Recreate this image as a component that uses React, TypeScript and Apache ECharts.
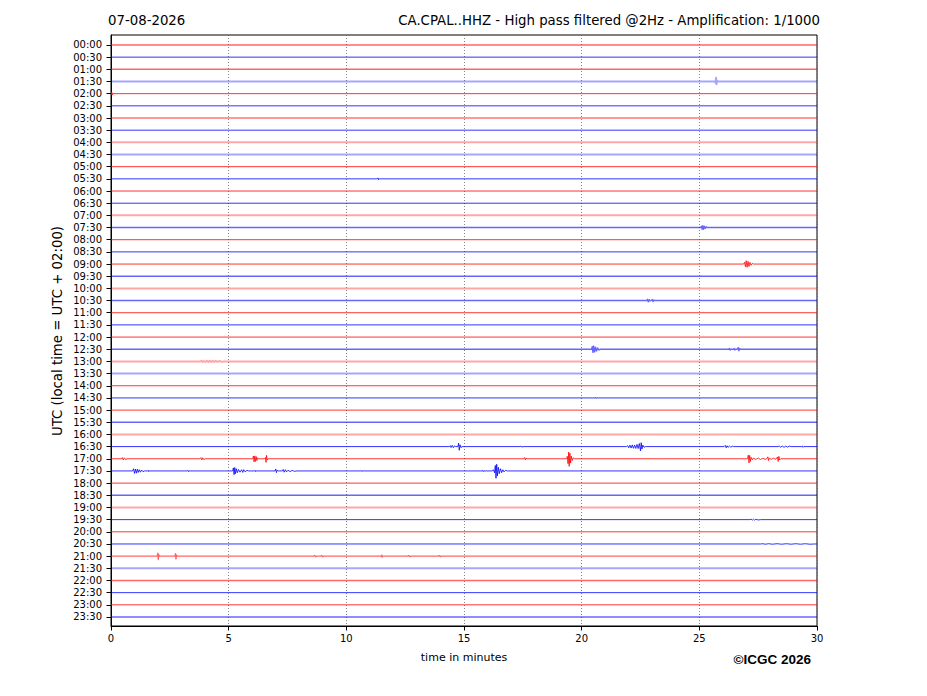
import React, { useEffect, useRef } from "react";
import * as echarts from "echarts";

const DATE_TEXT = "07-08-2026";
const TITLE_TEXT = "CA.CPAL..HHZ - High pass filtered @2Hz - Amplification: 1/1000";
const Y_NAME = "UTC (local time = UTC + 02:00)";
const X_NAME = "time in minutes";
const CREDIT = "\u00A9ICGC 2026";

const TIME_LABELS = [
  "00:00", "00:30", "01:00", "01:30", "02:00", "02:30", "03:00", "03:30",
  "04:00", "04:30", "05:00", "05:30", "06:00", "06:30", "07:00", "07:30",
  "08:00", "08:30", "09:00", "09:30", "10:00", "10:30", "11:00", "11:30",
  "12:00", "12:30", "13:00", "13:30", "14:00", "14:30", "15:00", "15:30",
  "16:00", "16:30", "17:00", "17:30", "18:00", "18:30", "19:00", "19:30",
  "20:00", "20:30", "21:00", "21:30", "22:00", "22:30", "23:00", "23:30",
];

// background noise level of each trace (0 quiet, 1 slight, 2 noisy)
const TRACE_NOISE = [
  1, 0, 1, 2, 0, 0, 0, 0, 2, 2, 0, 0, 0, 0,
  2, 1, 0, 0, 0, 1, 2, 1, 0, 0, 0, 1, 2, 2, 0, 0, 0, 1,
  2, 0, 0, 0, 0, 1, 2, 0, 0, 0, 1, 2, 1, 0, 0, 1,
];

// events: [minute, deflection in trace-spacing units]
const EV_0130: number[][] = [[25.66, 0], [25.69, 0.1], [25.71, -0.3], [25.73, 0.22], [25.75, -0.08], [25.78, 0]];
const EV_0200: number[][] = [[0.01, 0.08], [0.03, -0.12], [0.06, 0.1], [0.09, -0.05], [0.12, 0]];
const EV_0530: number[][] = [[11.32, 0], [11.35, -0.08], [11.37, 0.07], [11.4, 0]];
const EV_0730: number[][] = [[25.05, 0], [25.09, -0.1], [25.12, 0.14], [25.15, -0.16], [25.18, 0.14], [25.22, -0.1], [25.26, 0.07], [25.3, -0.05], [25.35, 0]];
const EV_0900: number[][] = [[26.88, 0], [26.92, -0.14], [26.96, 0.22], [26.99, -0.28], [27.03, 0.26], [27.07, -0.22], [27.11, 0.2], [27.15, -0.14], [27.2, 0.1], [27.25, -0.06], [27.3, 0]];
const EV_1030: number[][] = [[22.76, 0], [22.8, -0.1], [22.83, 0.1], [22.87, -0.07], [22.9, 0.03], [22.95, 0], [23.0, -0.08], [23.03, 0.08], [23.07, -0.04], [23.1, 0]];
const EV_1230: number[][] = [
  [20.42, 0], [20.45, -0.22], [20.48, 0.26], [20.51, -0.26], [20.55, 0.22], [20.59, -0.16], [20.63, 0.14], [20.68, -0.1], [20.73, 0.06], [20.8, 0],
  [26.25, 0], [26.28, -0.07], [26.31, 0.07], [26.34, 0], [26.45, 0], [26.48, -0.06], [26.51, 0.06], [26.54, 0],
  [26.62, 0], [26.65, -0.14], [26.68, 0.12], [26.71, -0.06], [26.75, 0],
];
const EV_1300: number[][] = [[3.8, 0], [3.85, -0.05], [3.9, 0.05], [3.96, -0.04], [4.02, 0.05], [4.08, -0.05], [4.14, 0.04], [4.2, -0.06], [4.26, 0.05], [4.32, -0.05], [4.38, 0.04], [4.45, -0.04], [4.52, 0.04], [4.6, -0.03], [4.7, 0.03], [4.8, 0]];
const EV_1430: number[][] = [[20.58, 0], [20.6, -0.05], [20.62, 0.04], [20.64, 0]];
const EV_1630: number[][] = [
  [14.38, 0], [14.42, -0.08], [14.45, 0.08], [14.5, -0.1], [14.55, 0.09], [14.6, -0.06], [14.65, 0],
  [14.74, 0], [14.77, -0.28], [14.8, 0.3], [14.83, -0.15], [14.87, 0.08], [14.92, 0],
  [17.38, 0], [17.42, -0.05], [17.46, 0.05], [17.5, 0],
  [21.9, 0], [21.95, -0.08], [22.0, 0.1], [22.05, -0.12], [22.1, 0.12], [22.15, -0.14], [22.2, 0.14], [22.25, -0.12], [22.3, 0.15],
  [22.35, -0.18], [22.4, 0.16], [22.45, -0.25], [22.5, 0.35], [22.53, -0.32], [22.56, 0.2], [22.6, -0.12], [22.65, 0.06], [22.7, 0],
  [26.05, 0], [26.1, -0.1], [26.14, 0.1], [26.18, -0.07], [26.22, 0.06], [26.28, -0.05], [26.34, 0.05], [26.4, -0.04], [26.46, 0],
  [28.35, 0], [28.4, -0.06], [28.45, 0.06], [28.52, -0.05], [28.6, 0.06], [28.68, -0.05], [28.75, 0.05], [28.82, -0.04], [28.9, 0],
  [29.35, 0], [29.38, -0.06], [29.41, 0.06], [29.44, 0],
];
const EV_1700: number[][] = [
  [0.44, 0], [0.48, -0.1], [0.52, 0.1], [0.57, -0.08], [0.62, 0.07], [0.68, 0],
  [3.78, 0], [3.82, -0.1], [3.86, 0.1], [3.9, -0.08], [3.95, 0.07], [4.0, 0],
  [6.02, 0], [6.05, -0.22], [6.08, 0.25], [6.11, -0.24], [6.14, 0.22], [6.17, -0.18], [6.2, 0.14], [6.24, -0.08], [6.28, 0],
  [6.52, 0], [6.56, -0.1], [6.59, 0.3], [6.61, -0.28], [6.64, 0.1], [6.68, 0],
  [17.55, 0], [17.58, -0.1], [17.61, 0.1], [17.64, -0.05], [17.68, 0],
  [19.36, 0], [19.39, -0.2], [19.42, 0.4], [19.45, -0.55], [19.47, 0.62], [19.5, -0.45], [19.53, 0.35], [19.56, -0.22], [19.6, 0.14], [19.64, -0.08], [19.7, 0],
  [23.3, 0], [23.32, -0.04], [23.34, 0.04], [23.36, 0],
  [27.05, 0], [27.08, -0.3], [27.11, 0.34], [27.14, -0.28], [27.17, 0.22], [27.2, -0.12], [27.25, 0.08], [27.3, -0.06], [27.4, 0.06],
  [27.5, -0.07], [27.6, 0.06], [27.7, -0.05], [27.8, 0.05], [27.88, -0.04], [27.91, -0.16], [27.94, 0.15], [27.97, -0.06],
  [28.05, 0.05], [28.15, -0.04], [28.25, 0.04], [28.32, -0.15], [28.35, 0.22], [28.38, -0.2], [28.41, 0.1], [28.46, 0],
];
const EV_1730: number[][] = [
  [0.92, 0], [0.96, -0.18], [1.0, 0.2], [1.04, -0.16], [1.08, 0.18], [1.12, -0.14], [1.16, 0.12], [1.2, -0.1], [1.25, 0.1], [1.3, -0.08], [1.36, 0.06], [1.42, 0],
  [1.56, 0], [1.58, -0.05], [1.6, 0.05], [1.62, 0],
  [3.25, 0], [3.27, -0.05], [3.29, 0.05], [3.31, 0],
  [5.17, 0], [5.2, -0.25], [5.23, 0.3], [5.26, -0.28], [5.29, 0.22], [5.33, -0.18], [5.37, 0.14], [5.42, -0.12], [5.48, 0.1],
  [5.55, -0.1], [5.6, 0.12], [5.64, -0.1], [5.7, 0.07], [5.78, -0.05], [5.85, 0],
  [6.1, 0], [6.12, -0.05], [6.14, 0.05], [6.16, 0],
  [6.97, 0], [7.0, -0.16], [7.03, 0.14], [7.06, -0.06], [7.1, 0],
  [7.28, 0], [7.32, -0.12], [7.36, 0.1], [7.41, -0.1], [7.46, 0.08], [7.52, -0.06], [7.6, 0.05], [7.7, -0.04], [7.8, 0.03], [7.9, 0],
  [10.6, 0], [10.62, -0.04], [10.64, 0.04], [10.66, 0],
  [15.78, 0], [15.8, -0.05], [15.82, 0.05], [15.84, 0],
  [16.2, 0], [16.25, -0.1], [16.3, 0.15], [16.33, -0.45], [16.36, 0.6], [16.39, -0.55], [16.42, 0.4], [16.46, -0.3], [16.5, 0.22],
  [16.55, -0.18], [16.6, 0.14], [16.65, -0.1], [16.7, 0.08], [16.76, -0.05], [16.84, 0],
];
const EV_1930: number[][] = [[27.15, 0], [27.2, -0.04], [27.25, 0.04], [27.3, -0.04], [27.35, 0.04], [27.4, -0.03], [27.5, 0.03], [27.6, 0]];
const EV_2030: number[][] = [[27.6, 0], [27.7, -0.02], [27.8, 0.02], [27.95, -0.02], [28.1, 0.02], [28.3, -0.02], [28.5, 0.02], [28.7, -0.02], [28.9, 0.02], [29.1, -0.02], [29.3, 0.02], [29.5, -0.02], [29.7, 0.02], [29.9, 0]];
const EV_2100: number[][] = [
  [1.97, 0], [1.99, -0.25], [2.01, 0.28], [2.03, -0.12], [2.06, 0],
  [2.72, 0], [2.74, -0.2], [2.76, 0.22], [2.78, -0.08], [2.81, 0],
  [8.6, 0], [8.65, -0.05], [8.7, 0.05], [8.75, 0], [8.9, 0], [8.95, -0.05], [9.0, 0.05], [9.05, 0],
  [11.48, 0], [11.5, -0.08], [11.52, 0.08], [11.54, 0],
  [12.6, 0], [12.65, -0.04], [12.7, 0.04], [12.75, 0],
  [13.9, 0], [13.95, -0.04], [14.0, 0.04], [14.05, 0],
];

const TRACE_EVENTS: Record<number, number[][]> = {
  3: EV_0130, 4: EV_0200, 11: EV_0530, 15: EV_0730, 18: EV_0900, 21: EV_1030,
  25: EV_1230, 26: EV_1300, 29: EV_1430, 33: EV_1630, 34: EV_1700, 35: EV_1730,
  39: EV_1930, 41: EV_2030, 42: EV_2100,
};

const X_MIN = 0;
const X_MAX = 30;

export default function App() {
  const ref = useRef<HTMLDivElement>(null);

  useEffect(() => {
    if (!ref.current) return;
    const chart = echarts.init(ref.current, null, { renderer: "svg" });
    const font = "DejaVu Sans";

    const yTicks = TIME_LABELS.map((_, i) => i);
    const traceData = TIME_LABELS.map((_, i) => [X_MIN, i]);

    const renderItem = (params: any, api: any) => {
      const i = params.dataIndex;
      const ev = TRACE_EVENTS[i] || [];
      const pts: number[][] = [[X_MIN, 0], ...ev, [X_MAX, 0]];
      const points = pts.map(([t, dy]) => api.coord([t, i + dy]));
      const noise = TRACE_NOISE[i];
      const color = i % 2 === 0 ? "#ff0000" : "#0000ff";
      return {
        type: "polyline",
        silent: true,
        shape: { points },
        style: {
          stroke: color,
          fill: "none",
          lineWidth: noise === 2 ? 2 : noise === 1 ? 1.4 : 1,
          opacity: noise === 2 ? 0.35 : noise === 1 ? 0.6 : 0.8,
          lineJoin: "round",
        },
      };
    };

    chart.setOption({
      animation: false,
      backgroundColor: "#ffffff",
      grid: {
        left: 111,
        top: 35,
        width: 706,
        height: 591,
        show: true,
        borderColor: "#000",
        borderWidth: 1,
        backgroundColor: "transparent",
      },
      xAxis: {
        type: "value",
        min: X_MIN,
        max: X_MAX,
        interval: 5,
        axisLine: { show: true, onZero: false, lineStyle: { color: "#000", width: 1 } },
        axisTick: { show: true, length: 4.5, lineStyle: { color: "#000", width: 1 } },
        axisLabel: { color: "#000", fontSize: 10, fontFamily: font, margin: 7 },
        splitLine: { show: true, lineStyle: { color: "#666", width: 0.8, type: [1, 2] } },
      },
      yAxis: {
        type: "value",
        inverse: true,
        min: -0.82,
        max: 47.74,
        axisLine: { show: true, onZero: false, lineStyle: { color: "#000", width: 1 } },
        axisTick: { show: true, length: 4.5, customValues: yTicks, lineStyle: { color: "#000", width: 1 } },
        axisLabel: {
          color: "#000",
          fontSize: 10,
          fontFamily: font,
          margin: 9,
          customValues: yTicks,
          formatter: (v: number) => TIME_LABELS[Math.round(v)] ?? "",
        },
        splitLine: { show: false },
      },
      graphic: [
        {
          type: "text",
          x: 108,
          y: 20,
          style: { text: DATE_TEXT, font: `13.3px "${font}"`, fill: "#000", textAlign: "left", textVerticalAlign: "middle" },
        },
        {
          type: "text",
          x: 820,
          y: 20,
          style: { text: TITLE_TEXT, font: `13.3px "${font}"`, fill: "#000", textAlign: "right", textVerticalAlign: "middle" },
        },
        {
          type: "text",
          x: 57,
          y: 331,
          rotation: Math.PI / 2,
          style: { text: Y_NAME, font: `13.3px "${font}"`, fill: "#000", textAlign: "center", textVerticalAlign: "middle" },
        },
        {
          type: "text",
          x: 464,
          y: 657,
          style: { text: X_NAME, font: `11px "${font}"`, fill: "#000", textAlign: "center", textVerticalAlign: "middle" },
        },
        {
          type: "text",
          x: 811,
          y: 659,
          style: { text: CREDIT, font: `bold 13.5px "Liberation Sans", Arial, sans-serif`, fill: "#000", textAlign: "right", textVerticalAlign: "middle" },
        },
      ],
      series: [
        {
          type: "custom",
          coordinateSystem: "cartesian2d",
          data: traceData,
          encode: { x: 0, y: 1 },
          renderItem,
          silent: true,
          clip: true,
        },
      ],
    });

    return () => chart.dispose();
  }, []);

  return (
    <div
      ref={ref}
      style={{ position: "absolute", left: 0, top: 0, width: 927, height: 696, background: "#fff" }}
    />
  );
}
